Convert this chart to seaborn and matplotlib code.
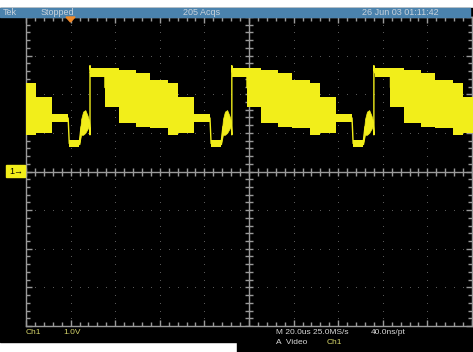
import numpy as np
import seaborn as sns
import matplotlib.pyplot as plt
from matplotlib.patches import Rectangle, Polygon

# one video line, times relative to the rising edge (us), levels in V
seg_t0 = [0.0, 6.7, 13.0, 20.6, 26.9, 35.0, 39.5, 46.6, 54.3]
seg_t1 = [6.7, 13.0, 20.6, 26.9, 35.0, 39.5, 46.6, 53.8, 58.8]
seg_lo = [2.45, 1.67, 1.26, 1.15, 1.13, 0.95, 1.00, 1.28, 0.63]
seg_hi = [2.68, 2.68, 2.63, 2.55, 2.37, 2.29, 1.93, 1.49, 0.82]
blob_t = [58.8, 59.6, 60.5, 61.5, 62.5, 63.3]
blob_lo = [0.70, 0.95, 0.95, 1.00, 1.10, 1.20]
blob_hi = [0.78, 1.35, 1.55, 1.59, 1.45, 1.30]
rise_t = [63.6, 63.6, 64.0]
rise_v = [0.95, 2.74, 2.56]
# rising edges seen on screen
rises = [-34.9, 28.7, 92.4, 156.5]

top_texts = [("Tek", 3), ("Stopped", 41), ("205 Acqs", 183), ("26 Jun 03 01:11:42", 362)]

W, H = 473, 352
YEL = '#f2ee1a'
GRAY = '#9a9a9a'

sns.set_style('dark', rc={'axes.facecolor': 'black'})
plt.rcParams['font.family'] = ['Liberation Sans', 'DejaVu Sans']

fig = plt.figure(figsize=(W / 100, H / 100), dpi=100)
fig.patch.set_facecolor('white')


def fy(py):
    return 1 - py / H


fig.add_artist(Rectangle((0, fy(342)), 1, fy(8) - fy(342), transform=fig.transFigure,
                         color='black', zorder=0))
fig.add_artist(Rectangle((237 / W, 0), 1, fy(340), transform=fig.transFigure,
                         color='black', zorder=0))
fig.add_artist(Rectangle((0, fy(17)), 470 / W, fy(8) - fy(17), transform=fig.transFigure,
                         color='#4a82ad', zorder=1))
for txt, px in top_texts:
    fig.text(px / W, fy(12.8), txt, color='#c8d2dc', fontsize=6.5, va='center', ha='left')

ax = fig.add_axes([26 / W, fy(326), 446 / W, fy(17) - fy(326)])
ax.set_facecolor('black')
ax.set_xlim(0, 200)
ax.set_ylim(-4, 4)

# graticule dots
maj_x = np.arange(20, 200, 20)
maj_y = np.arange(-3, 4, 1)
min_x = np.arange(0, 201, 4)
min_y = np.arange(-4, 4.01, 0.2)
gx, gy = np.meshgrid(maj_x, min_y)
ax.scatter(gx.ravel(), gy.ravel(), s=0.5, color='#5e5e5e', lw=0, zorder=1)
gx, gy = np.meshgrid(min_x, maj_y)
ax.scatter(gx.ravel(), gy.ravel(), s=0.5, color='#5e5e5e', lw=0, zorder=1)

# centre cross with ticks
ax.axhline(0, color=GRAY, lw=1, zorder=2)
ax.axvline(100, color=GRAY, lw=1, zorder=2)
ax.plot(min_x, np.zeros_like(min_x), ls='none', marker='|', ms=6, mew=1, color=GRAY, zorder=2)
ax.plot(np.full_like(min_y, 100), min_y, ls='none', marker='_', ms=6, mew=1, color=GRAY, zorder=2)

# frame ticks
for s in ax.spines.values():
    s.set_color(GRAY)
    s.set_linewidth(1)
ax.set_xticks(np.arange(0, 201, 20))
ax.set_yticks(np.arange(-4, 5, 1))
ax.set_xticks(min_x, minor=True)
ax.set_yticks(min_y, minor=True)
ax.tick_params(which='both', direction='in', top=True, right=True, bottom=True, left=True,
               labelbottom=False, labelleft=False, color=GRAY, width=1)
ax.tick_params(which='major', length=4)
ax.tick_params(which='minor', length=3)
ax.grid(False)

# waveform
for r in rises:
    for t0, t1, lo, hi in zip(seg_t0, seg_t1, seg_lo, seg_hi):
        ax.fill_between([r + t0, r + t1], [lo, lo], [hi, hi], color=YEL, lw=0, zorder=3)
    ax.fill_between([r + t for t in blob_t], blob_lo, blob_hi, color=YEL, lw=0.5,
                    edgecolor=YEL, zorder=3)
    tx, ty = [], []
    for t0, t1, lo, hi in zip(seg_t0, seg_t1, seg_lo, seg_hi):
        tx += [r + t0, r + t1]
        ty += [(lo + hi) / 2] * 2
    for t, lo, hi in zip(blob_t, blob_lo, blob_hi):
        tx.append(r + t)
        ty.append((lo + hi) / 2)
    tx += [r + t for t in rise_t]
    ty += rise_v
    sns.lineplot(x=tx, y=ty, ax=ax, color=YEL, lw=1, sort=False, estimator=None, zorder=3)

# trigger marker and channel marker
fig.add_artist(Polygon([[66 / W, fy(17)], [75 / W, fy(17)], [70.5 / W, fy(22)]], closed=True,
                       transform=fig.transFigure, color='#f08a2a', zorder=5))
fig.add_artist(Rectangle((6 / W, fy(177)), 19 / W, fy(165) - fy(177), transform=fig.transFigure,
                         color=YEL, zorder=5))
fig.text(16 / W, fy(171.5), "1\u2192", color='black', fontsize=6.5, ha='center', va='center', zorder=6)

# bottom readouts
fig.text(26 / W, fy(333), "Ch1", color='#d4d46a', fontsize=6, va='center')
fig.text(63 / W, fy(333), "1.0V", color='#d4d46a', fontsize=6, va='center')
fig.text(276 / W, fy(333), "M 20.0us 25.0MS/s", color='#d8d8d8', fontsize=6, va='center')
fig.text(371 / W, fy(333), "40.0ns/pt", color='#d8d8d8', fontsize=6, va='center')
fig.text(276 / W, fy(343), "A  Video", color='#d8d8d8', fontsize=6, va='center')
fig.text(327 / W, fy(343), "Ch1", color='#d4d46a', fontsize=6, va='center')

fig.savefig('out.png', dpi=100, facecolor='white')
